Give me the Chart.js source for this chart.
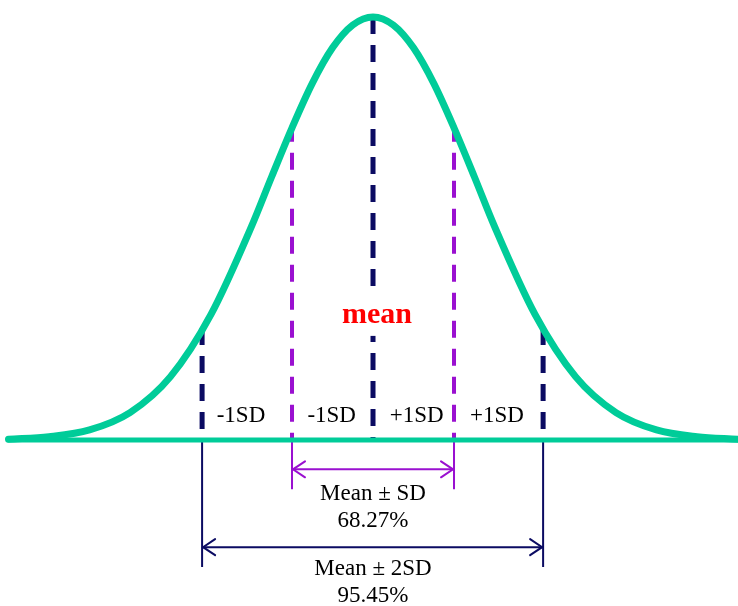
<!DOCTYPE html>
<html>
<head>
<meta charset="utf-8">
<style>
  body { margin: 0; background: #ffffff; }
  #wrap { width: 738px; height: 606px; }
</style>
</head>
<body>
<div id="wrap"><canvas id="grafico" width="738" height="606"></canvas></div>

<script src="https://cdn.jsdelivr.net/npm/chart.js"></script>
<script>
  // curve (x in SD units, height relative to peak)
  const curveX = [-4.5, -4, -3.5, -3, -2.5, -2, -1.5, -1.25, -1, -0.75, -0.5, -0.25, 0, 0.25, 0.5, 0.75, 1, 1.25, 1.5, 2, 2.5, 3, 3.5, 4, 4.5];
  const curveY = [0.002, 0.008, 0.024, 0.065, 0.15, 0.297, 0.505, 0.623, 0.738, 0.843, 0.927, 0.981, 1, 0.981, 0.927, 0.843, 0.738, 0.623, 0.505, 0.297, 0.15, 0.065, 0.024, 0.008, 0.002];

  // vertical markers
  const meanX = 0;
  const oneSdX = [-1, 1];
  const twoSdX = [-2.11, 2.1];
  const oneSdTop = 0.745;
  const twoSdTop = 0.265;
  const oneSdDrop = -0.116;
  const twoSdDrop = -0.3;

  // arrows below the axis
  const arrowOneY = -0.069;
  const arrowTwoY = -0.253;

  // labels
  const sdLabels = ['-1SD', '-1SD', '+1SD', '+1SD'];
  const sdLabelX = [-1.63, -0.51, 0.54, 1.53];
  const sdLabelY = 0.043;
  const meanLabel = 'mean';
  const rangeLabels = ['Mean \u00b1 SD', '68.27%', 'Mean \u00b1 2SD', '95.45%'];
  const rangeLabelY = [-0.142, -0.206, -0.319, -0.383];

  const verde = '#00CC99';
  const marinho = '#0B0B62';
  const roxo = '#9A10D0';

  function seg(x1, y1, x2, y2) {
    return [{ x: x1, y: y1 }, { x: x2, y: y2 }];
  }

  const datasets = [];

  datasets.push({
    data: curveX.map((x, k) => ({ x: x, y: curveY[k] })),
    borderColor: verde, borderWidth: 7, cubicInterpolationMode: 'monotone',
    borderCapStyle: 'round'
  });
  datasets.push({
    data: seg(curveX[0], 0, curveX[curveX.length - 1], 0),
    borderColor: verde, borderWidth: 5, borderCapStyle: 'round'
  });

  // dashed lines
  datasets.push({ data: seg(meanX, 1, meanX, 0), borderColor: marinho, borderWidth: 5, borderDash: [17, 11] });
  oneSdX.forEach(x => {
    datasets.push({ data: seg(x, oneSdTop, x, 0), borderColor: roxo, borderWidth: 4, borderDash: [17, 11] });
    datasets.push({ data: seg(x, 0, x, oneSdDrop), borderColor: roxo, borderWidth: 2 });
  });
  twoSdX.forEach(x => {
    datasets.push({ data: seg(x, twoSdTop, x, 0), borderColor: marinho, borderWidth: 5, borderDash: [17, 11] });
    datasets.push({ data: seg(x, 0, x, twoSdDrop), borderColor: marinho, borderWidth: 2 });
  });

  // arrow shafts
  datasets.push({ data: seg(oneSdX[0], arrowOneY, oneSdX[1], arrowOneY), borderColor: roxo, borderWidth: 2, arrow: true });
  datasets.push({ data: seg(twoSdX[0], arrowTwoY, twoSdX[1], arrowTwoY), borderColor: marinho, borderWidth: 2, arrow: true });

  datasets.forEach(d => {
    d.showLine = true;
    d.pointRadius = 0;
    d.fill = false;
    d.clip = false;
  });

  const anotacoes = {
    id: 'anotacoes',
    afterDatasetsDraw(chart) {
      const ctx = chart.ctx;
      const xs = chart.scales.x, ys = chart.scales.y;

      // arrowheads
      chart.data.datasets.forEach(d => {
        if (!d.arrow) return;
        ctx.save();
        ctx.strokeStyle = d.borderColor;
        ctx.lineWidth = d.borderWidth;
        ctx.lineCap = 'round';
        const py = ys.getPixelForValue(d.data[0].y);
        [[d.data[0].x, 1], [d.data[1].x, -1]].forEach(([v, dir]) => {
          const px = xs.getPixelForValue(v);
          ctx.beginPath();
          ctx.moveTo(px + dir * 13, py - 8);
          ctx.lineTo(px + dir * 1, py);
          ctx.lineTo(px + dir * 13, py + 8);
          ctx.stroke();
        });
        ctx.restore();
      });

      ctx.save();
      ctx.textAlign = 'center';
      ctx.textBaseline = 'alphabetic';
      ctx.fillStyle = '#000000';
      ctx.font = '23px "Liberation Serif", "Times New Roman", serif';
      sdLabels.forEach((t, k) => {
        ctx.fillText(t, xs.getPixelForValue(sdLabelX[k]), ys.getPixelForValue(sdLabelY));
      });
      rangeLabels.forEach((t, k) => {
        ctx.fillText(t, xs.getPixelForValue(meanX), ys.getPixelForValue(rangeLabelY[k]));
      });

      // "mean" sits on a white box that hides the dashed line
      ctx.font = 'bold 30px "Liberation Serif", "Times New Roman", serif';
      const mx = xs.getPixelForValue(0.05), my = ys.getPixelForValue(0.277);
      const w = ctx.measureText(meanLabel).width;
      ctx.fillStyle = '#ffffff';
      ctx.fillRect(mx - w / 2 - 4, my - 31, w + 8, 44);
      ctx.fillStyle = '#FF0000';
      ctx.fillText(meanLabel, mx, my);
      ctx.restore();
    }
  };

  new Chart(document.getElementById('grafico'), {
    type: 'scatter',
    data: { datasets: datasets },
    options: {
      responsive: false,
      animation: false,
      layout: { padding: 0 },
      plugins: { legend: { display: false }, tooltip: { enabled: false } },
      scales: {
        x: { type: 'linear', display: false, min: -4.605, max: 4.506 },
        y: { type: 'linear', display: false, min: -0.392, max: 1.04 }
      }
    },
    plugins: [anotacoes]
  });
</script>
</body>
</html>
